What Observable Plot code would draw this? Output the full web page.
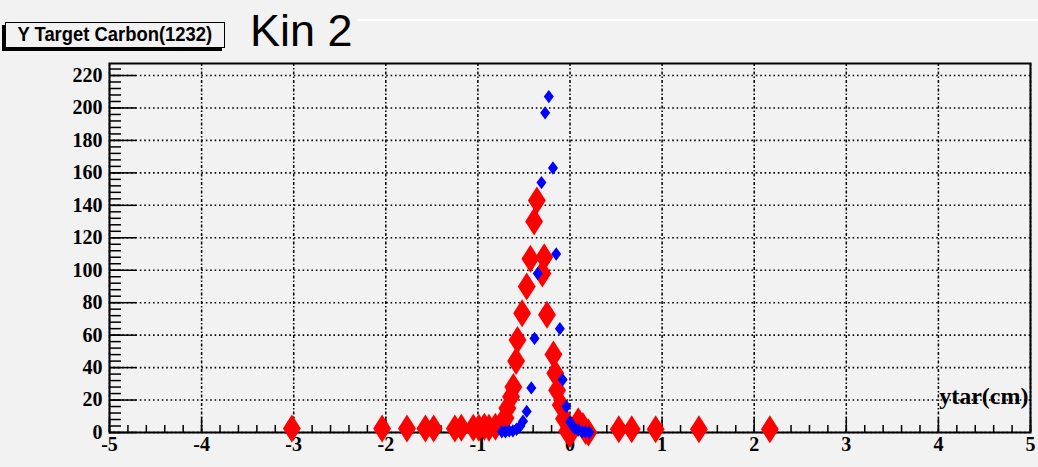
<!DOCTYPE html>
<html>
<head>
<meta charset="utf-8">
<script src="https://cdn.jsdelivr.net/npm/d3@7"></script>
<script src="https://cdn.jsdelivr.net/npm/@observablehq/plot@0.6"></script>
<style>
html,body{margin:0;padding:0;background:#f2f2f2;}
#wrap{position:relative;width:1038px;height:467px;overflow:hidden;background:#f2f2f2;}
#head{position:relative;height:55px;}
#shadow{position:absolute;left:2px;top:25px;width:220px;height:26px;background:#000;}
#tbox{position:absolute;left:5px;top:22px;width:220px;height:26px;box-sizing:border-box;border:1.5px solid #000;background:#f2f2f2;text-align:center;}
#tbox span{display:inline-block;font:bold 20px "Liberation Sans",Arial,sans-serif;line-height:23px;transform:scaleX(0.92);white-space:nowrap;color:#000;}
#kin{position:absolute;left:250px;top:8px;font:45px "Liberation Sans",Arial,sans-serif;line-height:45px;color:#000;white-space:nowrap;}
#wline{position:absolute;left:357px;top:19px;width:681px;height:2px;background:#fff;}
</style>
</head>
<body>
<div id="wrap">
  <div id="head">
    <div id="wline"></div>
    <div id="shadow"></div>
    <div id="tbox"><span id="ttext"></span></div>
    <div id="kin"></div>
  </div>
  <div id="chart"></div>
</div>
<script>
// ---- text ----
const titleText = "Y Target Carbon(1232)";
const kinText = "Kin 2";
const xLabel = "ytar(cm)";

// ---- axis ticks ----
const xMajor = [-5, -4, -3, -2, -1, 0, 1, 2, 3, 4, 5];
const xMinor = d3.range(-50, 51, 2).map(d => d / 10);
const yMajor = [0, 20, 40, 60, 80, 100, 120, 140, 160, 180, 200, 220];
const yMinor = d3.range(0, 228, 4);
const yMax = 227.4;

// ---- red series (x, counts) ----
const redX = [-3.02, -2.04, -1.77, -1.57, -1.48, -1.25, -1.18, -1.05, -0.99, -0.93, -0.88, -0.81,
  -0.74, -0.70, -0.68, -0.64, -0.615, -0.585, -0.57, -0.52, -0.47, -0.43, -0.39, -0.36,
  -0.30, -0.28, -0.25, -0.18, -0.16, -0.14, -0.10, -0.065, -0.03, 0.0, 0.09, 0.14, 0.17, 0.20,
  0.53, 0.67, 0.93, 1.40, 2.17];
const redY = [2.5, 2.5, 2.5, 2.5, 2.5, 2.5, 3, 3, 3, 3.5, 3, 3.5,
  6, 9, 15, 22, 28, 44, 57, 73.5, 90, 107, 130, 143,
  98, 108, 72.5, 48, 36.5, 26, 17, 8.5, 1, -1, 7, 4, 1, 0,
  2, 2, 2, 2, 2];

// ---- blue series (x, counts) ----
const blueX = [-0.74, -0.70, -0.66, -0.62, -0.58, -0.54, -0.51, -0.47, -0.42, -0.385, -0.35, -0.31,
  -0.27, -0.23, -0.185, -0.15, -0.11, -0.08, -0.04, 0.0, 0.05, 0.09, 0.13, 0.17, 0.21];
const blueY = [0.5, 0.5, 1, 1, 2, 4, 7, 13, 27.5, 58, 98, 154,
  197, 207, 163, 110, 64, 32.5, 16, 6.5, 2.5, 1.5, 0.5, 0.5, 0];

const red = redX.map((x, i) => ({x, y: redY[i]}));
const blue = blueX.map((x, i) => ({x, y: blueY[i]}));

document.getElementById("ttext").textContent = titleText;
document.getElementById("kin").textContent = kinText;

function diamond(aspect) {
  return {
    draw(ctx, size) {
      const r = Math.sqrt(size / Math.PI);
      const w = r * aspect;
      ctx.moveTo(0, -r);
      ctx.lineTo(w, 0);
      ctx.lineTo(0, r);
      ctx.lineTo(-w, 0);
      ctx.closePath();
    }
  };
}

const serif = "Liberation Serif, Times New Roman, serif";
const fmt = d => (d < 0 ? "-" + Math.abs(d) : String(d));

const chart = Plot.plot({
  width: 1038,
  height: 412,
  marginTop: 8,
  marginBottom: 35,
  marginLeft: 109,
  marginRight: 8,
  style: {background: "#f2f2f2", color: "#000"},
  x: {domain: [-5, 5]},
  y: {domain: [0, yMax]},
  marks: [
    Plot.gridX({ticks: xMajor, stroke: "#000", strokeOpacity: 1, strokeWidth: 1.5, strokeDasharray: "3,2,1.5,2"}),
    Plot.gridY({ticks: yMajor, stroke: "#000", strokeOpacity: 1, strokeWidth: 1.6, strokeDasharray: "1.6,2.8"}),
    Plot.axisX({ticks: xMinor, tickSize: -7, fill: "none", label: null, stroke: "#000", strokeWidth: 1.5}),
    Plot.axisX({ticks: xMajor, tickSize: -15, fill: "none", label: null, stroke: "#000", strokeWidth: 1.5}),
    Plot.axisY({ticks: yMinor, tickSize: -12, fill: "none", label: null, stroke: "#000", strokeWidth: 1.5}),
    Plot.axisY({ticks: yMajor, tickSize: -27, fill: "none", label: null, stroke: "#000", strokeWidth: 1.5}),
    Plot.axisX({ticks: xMajor, tickSize: 0, tickPadding: 4, tickFormat: fmt, label: null,
      fontSize: 20, fontFamily: serif, fontWeight: "bold", fill: "#000"}),
    Plot.axisY({ticks: yMajor, tickSize: 0, tickPadding: 7, tickFormat: fmt, label: null,
      fontSize: 20, fontFamily: serif, fontWeight: "bold", fill: "#000"}),
    Plot.frame({stroke: "#000", strokeWidth: 2}),
    Plot.dot(red, {x: "x", y: "y", symbol: diamond(0.64), r: 14, fill: "#ff0000", stroke: "none"}),
    Plot.dot(blue, {x: "x", y: "y", symbol: diamond(0.75), r: 6.7, fill: "#0000ff", stroke: "none"}),
    Plot.text([xLabel], {frameAnchor: "bottom-right", textAnchor: "end", dx: -2, dy: -28.7,
      fontSize: 24, fontFamily: serif, fontWeight: "bold", fill: "#000"})
  ]
});
document.getElementById("chart").appendChild(chart);
</script>
</body>
</html>
